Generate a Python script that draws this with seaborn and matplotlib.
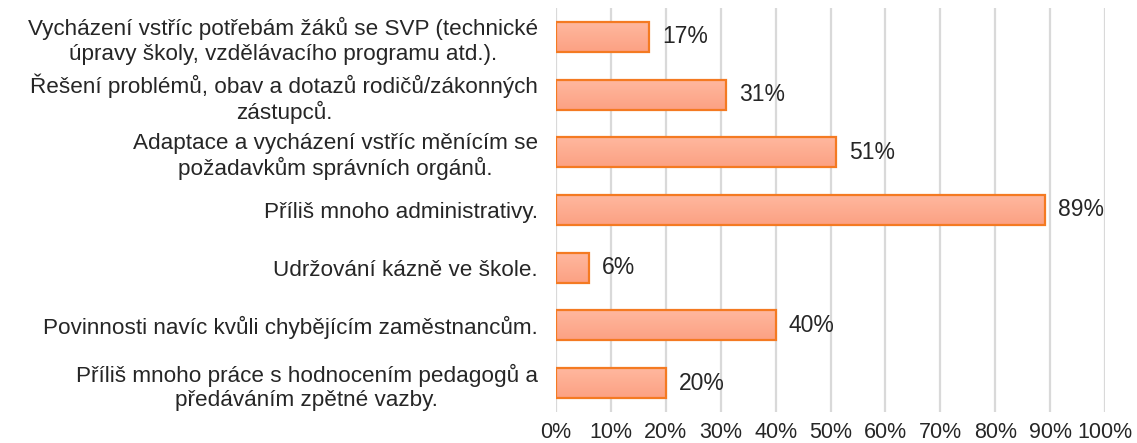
import matplotlib
matplotlib.use("Agg")
import matplotlib.pyplot as plt
import seaborn as sns
import pandas as pd
import numpy as np
from matplotlib.colors import LinearSegmentedColormap
from matplotlib.ticker import FuncFormatter, MultipleLocator

categories = [
    "Vycházení vstříc potřebám žáků se SVP (technické\núpravy školy, vzdělávacího programu atd.).",
    "Řešení problémů, obav a dotazů rodičů/zákonných\nzástupců.",
    "Adaptace a vycházení vstříc měnícím se\npožadavkům správních orgánů.",
    "Příliš mnoho administrativy.",
    "Udržování kázně ve škole.",
    "Povinnosti navíc kvůli chybějícím zaměstnancům.",
    "Příliš mnoho práce s hodnocením pedagogů a\npředáváním zpětné vazby.",
]
shares = [17, 31, 51, 89, 6, 40, 20]

df = pd.DataFrame({"category": categories, "share": shares})

sns.set_theme(style="white")
plt.rcParams["font.family"] = ["Liberation Sans", "DejaVu Sans"]

fig = plt.figure(figsize=(11.37, 4.43), dpi=100)
ax = fig.add_axes([0.489, 0.07, 0.483, 0.912])

sns.barplot(data=df, y="category", x="share", orient="h", ax=ax,
            color="#FBAF93", edgecolor="#F47A22", linewidth=1.6,
            width=0.52, saturation=1)

ax.set_xlim(0, 100)
ylim = ax.get_ylim()

# soft vertical gradient inside each bar (lighter top, deeper bottom)
grad_cmap = LinearSegmentedColormap.from_list("bar_grad", ["#FFB89F", "#FCA183"])
grad = np.linspace(0, 1, 64).reshape(-1, 1)
for bar in ax.patches:
    x0, y0 = bar.get_x(), bar.get_y()
    w, h = bar.get_width(), bar.get_height()
    im = ax.imshow(grad, cmap=grad_cmap, aspect="auto", origin="upper",
                   extent=(x0, x0 + w, y0 + h, y0), zorder=bar.get_zorder() + 0.1,
                   interpolation="bilinear")
    im.set_clip_path(bar)
    bar.set_facecolor("none")
    bar.set_zorder(bar.get_zorder() + 0.2)
ax.set_xlim(0, 100)
ax.set_ylim(ylim)

ax.xaxis.set_major_locator(MultipleLocator(10))
ax.xaxis.set_major_formatter(FuncFormatter(lambda v, p: f"{v:.0f}%"))
ax.grid(axis="x", color="#D9D9D9", linewidth=1.6)
ax.set_axisbelow(True)
for s in ax.spines.values():
    s.set_visible(False)
ax.set_xlabel("")
ax.set_ylabel("")
ax.tick_params(axis="both", length=0, colors="#262626")
ax.tick_params(axis="x", pad=7, labelsize=15.5)
ax.tick_params(axis="y", pad=13, labelsize=16.2)
for lbl in ax.get_yticklabels():
    lbl.set_multialignment("center")

for bar, v in zip(ax.patches, shares):
    ax.text(bar.get_width() + 2.4, bar.get_y() + bar.get_height() / 2, f"{v}%",
            va="center", ha="left", fontsize=16.5, color="#262626")

fig.savefig("out.png", dpi=100, facecolor="white")
